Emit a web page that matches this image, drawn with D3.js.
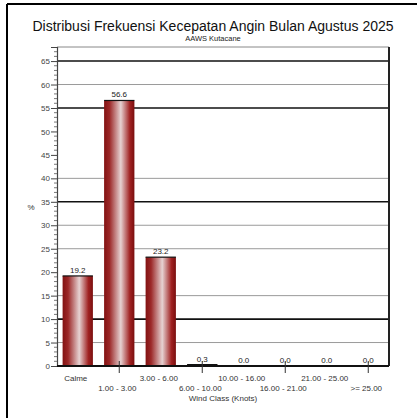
<!DOCTYPE html>
<html>
<head>
<meta charset="utf-8">
<script src="https://cdn.jsdelivr.net/npm/d3@7"></script>
<style>
body { margin: 0; background: #fff; }
text { font-family: "Liberation Sans", Arial, sans-serif; }
</style>
</head>
<body>
<div id="chart"></div>
<script>
var categories = ["Calme", "1.00 - 3.00", "3.00 - 6.00", "6.00 - 10.00", "10.00 - 16.00", "16.00 - 21.00", "21.00 - 25.00", ">= 25.00"];
var percents = [19.2, 56.6, 23.2, 0.3, 0.0, 0.0, 0.0, 0.0];
var yTicks = [0, 5, 10, 15, 20, 25, 30, 35, 40, 45, 50, 55, 60, 65];
var darkGrid = [10, 35, 55, 65];
var lightGrid = [5, 15, 25, 30, 40, 60];

var margin = {top: 47, right: 28, bottom: 52, left: 57},
    W = 417, H = 418,
    width = W - margin.left - margin.right,
    height = H - margin.top - margin.bottom;

var svg = d3.select("#chart").append("svg")
    .attr("width", W)
    .attr("height", H);

// outer frame (only left + top visible)
svg.append("line").attr("x1", 7).attr("x2", 7).attr("y1", 4).attr("y2", H)
    .attr("stroke", "#000").attr("stroke-width", 2);
svg.append("line").attr("x1", 7).attr("x2", W).attr("y1", 4).attr("y2", 4)
    .attr("stroke", "#000").attr("stroke-width", 2);

svg.append("text")
    .attr("x", 213).attr("y", 31)
    .attr("text-anchor", "middle")
    .attr("font-size", 14)
    .attr("fill", "#111")
    .text("Distribusi Frekuensi Kecepatan Angin Bulan Agustus 2025");
svg.append("text")
    .attr("x", 213).attr("y", 41)
    .attr("text-anchor", "middle")
    .attr("font-size", 7.5)
    .attr("fill", "#222")
    .text("AAWS Kutacane");

var g = svg.append("g").attr("transform", "translate(" + margin.left + "," + margin.top + ")");

var x = d3.scaleBand().domain(categories).range([0, width]).paddingInner(0.27).paddingOuter(0.135);
var y = d3.scaleLinear().domain([0, 68]).range([height, 0]);

// gradient for bars
var defs = svg.append("defs");
var grad = defs.append("linearGradient").attr("id", "barGrad")
    .attr("x1", "0%").attr("x2", "100%").attr("y1", "0%").attr("y2", "0%");
grad.append("stop").attr("offset", "0%").attr("stop-color", "#821212");
grad.append("stop").attr("offset", "18%").attr("stop-color", "#9c2828");
grad.append("stop").attr("offset", "55%").attr("stop-color", "#e6d2d2");
grad.append("stop").attr("offset", "85%").attr("stop-color", "#a02222");
grad.append("stop").attr("offset", "100%").attr("stop-color", "#7a0e0e");

// grid lines
g.selectAll(".glight").data(lightGrid).enter().append("line")
    .attr("x1", 0).attr("x2", width)
    .attr("y1", function(d) { return y(d); })
    .attr("y2", function(d) { return y(d); })
    .attr("stroke", "#9a9a9a").attr("stroke-width", 1);
g.selectAll(".gdark").data(darkGrid).enter().append("line")
    .attr("x1", 0).attr("x2", width)
    .attr("y1", function(d) { return y(d); })
    .attr("y2", function(d) { return y(d); })
    .attr("stroke", "#111").attr("stroke-width", 1.6);

// plot frame
g.append("line").attr("x1", 0).attr("x2", width).attr("y1", 0).attr("y2", 0)
    .attr("stroke", "#888").attr("stroke-width", 1);
g.append("line").attr("x1", width).attr("x2", width).attr("y1", 0).attr("y2", height)
    .attr("stroke", "#222").attr("stroke-width", 2);

// bars
g.selectAll(".bar").data(percents).enter().append("rect")
    .attr("x", function(d, i) { return x(categories[i]); })
    .attr("y", function(d) { return y(d); })
    .attr("width", x.bandwidth())
    .attr("height", function(d) { return height - y(d); })
    .attr("fill", "url(#barGrad)");
g.selectAll(".bartop").data(percents).enter().append("line")
    .filter(function(d) { return d > 0; })
    .attr("x1", function(d) { return x(categories[percents.indexOf(d)]); })
    .attr("x2", function(d) { return x(categories[percents.indexOf(d)]) + x.bandwidth(); })
    .attr("y1", function(d) { return y(d); })
    .attr("y2", function(d) { return y(d); })
    .attr("stroke", "#111").attr("stroke-width", 1.2);

// value labels
g.selectAll(".val").data(percents).enter().append("text")
    .attr("x", function(d, i) { return x(categories[i]) + x.bandwidth() / 2; })
    .attr("y", function(d) { return y(d) - 3; })
    .attr("text-anchor", "middle")
    .attr("font-size", 8)
    .attr("fill", "#222")
    .text(function(d) { return d.toFixed(1); });

// y axis
var yAxis = d3.axisLeft(y).tickValues(yTicks).tickSize(6).tickPadding(1);
var ya = g.append("g").call(yAxis);
ya.select(".domain").attr("stroke", "#444").attr("stroke-width", 1.2);
ya.selectAll(".tick line").attr("stroke", "#444");
ya.selectAll(".tick text").attr("font-size", 8).attr("fill", "#444")
    .attr("font-family", "'Liberation Sans', Arial, sans-serif");
var minor = d3.range(0, 68).filter(function(v) { return v % 5 !== 0; });
g.selectAll(".minor").data(minor).enter().append("line")
    .attr("x1", -3).attr("x2", 0)
    .attr("y1", function(d) { return y(d); })
    .attr("y2", function(d) { return y(d); })
    .attr("stroke", "#555").attr("stroke-width", 0.8);

// x axis
g.append("line").attr("x1", 0).attr("x2", width).attr("y1", height).attr("y2", height)
    .attr("stroke", "#111").attr("stroke-width", 2);
g.selectAll(".xtick").data(categories).enter().append("line")
    .filter(function(d, i) { return i % 2 === 1; })
    .attr("x1", function(d) { return x(d) + x.bandwidth() / 2; })
    .attr("x2", function(d) { return x(d) + x.bandwidth() / 2; })
    .attr("y1", height - 5)
    .attr("y2", height + 7)
    .attr("stroke", "#333").attr("stroke-width", 1);
g.selectAll(".xlab").data(categories).enter().append("text")
    .attr("x", function(d) { return x(d) + x.bandwidth() / 2 - 2; })
    .attr("y", function(d, i) { return height + (i % 2 === 0 ? 15 : 25); })
    .attr("text-anchor", "middle")
    .attr("font-size", 8)
    .attr("fill", "#333")
    .text(function(d) { return d; });

svg.append("text")
    .attr("x", 223).attr("y", 401)
    .attr("text-anchor", "middle")
    .attr("font-size", 8)
    .attr("fill", "#333")
    .text("Wind Class (Knots)");
svg.append("text")
    .attr("x", 31).attr("y", 210)
    .attr("text-anchor", "middle")
    .attr("font-size", 8)
    .attr("fill", "#333")
    .text("%");
</script>
</body>
</html>
